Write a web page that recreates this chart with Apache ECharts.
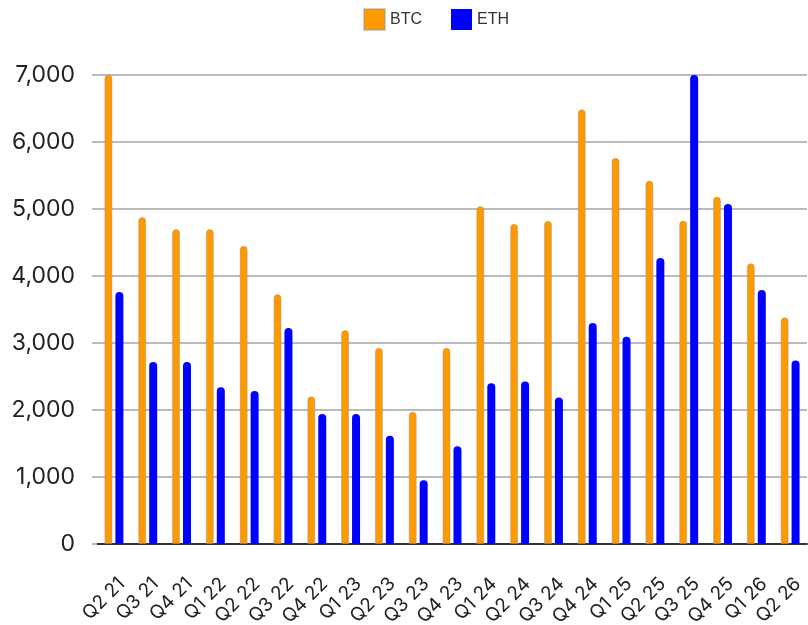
<!DOCTYPE html>
<html>
<head>
<meta charset="utf-8">
<script src="https://cdn.jsdelivr.net/npm/echarts@6/dist/echarts.min.js"></script>
<style>
  html, body { margin: 0; padding: 0; background: #fff; }
  #chart { width: 808px; height: 625px; }
</style>
</head>
<body>
<div id="chart"></div>
<script>
// quarters on the x axis
const quarters = ['Q2 21', 'Q3 21', 'Q4 21', 'Q1 22', 'Q2 22', 'Q3 22', 'Q4 22',
  'Q1 23', 'Q2 23', 'Q3 23', 'Q4 23', 'Q1 24', 'Q2 24', 'Q3 24', 'Q4 24',
  'Q1 25', 'Q2 25', 'Q3 25', 'Q4 25', 'Q1 26', 'Q2 26']
// values (first BTC and Q3 25 ETH run past the top)
const btcValues = [7400, 4880, 4700, 4700, 4450, 3730, 2205, 3195, 2930, 1975, 2930,
  5045, 4780, 4825, 6490, 5765, 5425, 4830, 5185, 4190, 3385]
const ethValues = [3760, 2715, 2715, 2340, 2285, 3225, 1940, 1940, 1615, 950, 1460,
  2400, 2425, 2185, 3300, 3095, 4270, 7400, 5075, 3790, 2740]
const yTicks = [0, 1000, 2000, 3000, 4000, 5000, 6000, 7000]

const chart = echarts.init(document.getElementById('chart'))

chart.setOption({
  animation: false,
  legend: {
    top: 3,
    left: 358,
    itemWidth: 21,
    itemHeight: 21,
    itemGap: 29,
    icon: 'rect',
    textStyle: { fontFamily: 'Liberation Sans', fontSize: 16, color: '#333' },
    data: ['BTC', 'ETH']
  },
  grid: { left: 97, right: 1, top: 75, bottom: 81, outerBoundsMode: 'none', containLabel: false },
  xAxis: {
    type: 'category',
    data: quarters,
    axisLine: { lineStyle: { color: '#333', width: 2 } },
    axisTick: { show: false },
    axisLabel: {
      rotate: 45,
      interval: 0,
      margin: 29,
      verticalAlign: 'top',
      lineHeight: 22,
      fontFamily: 'Inter',
      fontSize: 19,
      color: '#222'
    }
  },
  yAxis: {
    type: 'value',
    min: yTicks[0],
    max: yTicks[yTicks.length - 1],
    interval: 1000,
    axisLine: { show: false },
    axisTick: { show: true, length: 5, lineStyle: { color: '#bbb', width: 2 } },
    splitLine: { lineStyle: { color: '#bbb', width: 2 } },
    axisLabel: {
      margin: 22,
      fontFamily: 'Inter',
      fontSize: 23,
      color: '#222',
      formatter: v => v.toLocaleString('en-US')
    }
  },
  series: [
    {
      name: 'BTC',
      type: 'bar',
      data: btcValues,
      barWidth: 8,
      barGap: '37%',
      itemStyle: {
        color: '#ff9900',
        borderColor: 'rgba(150,150,150,0.45)',
        borderWidth: 1,
        borderRadius: [4, 4, 0, 0]
      }
    },
    {
      name: 'ETH',
      type: 'bar',
      data: ethValues,
      barWidth: 8,
      itemStyle: {
        color: '#0000ff',
        borderRadius: [4, 4, 0, 0]
      }
    }
  ]
})
</script>
</body>
</html>
